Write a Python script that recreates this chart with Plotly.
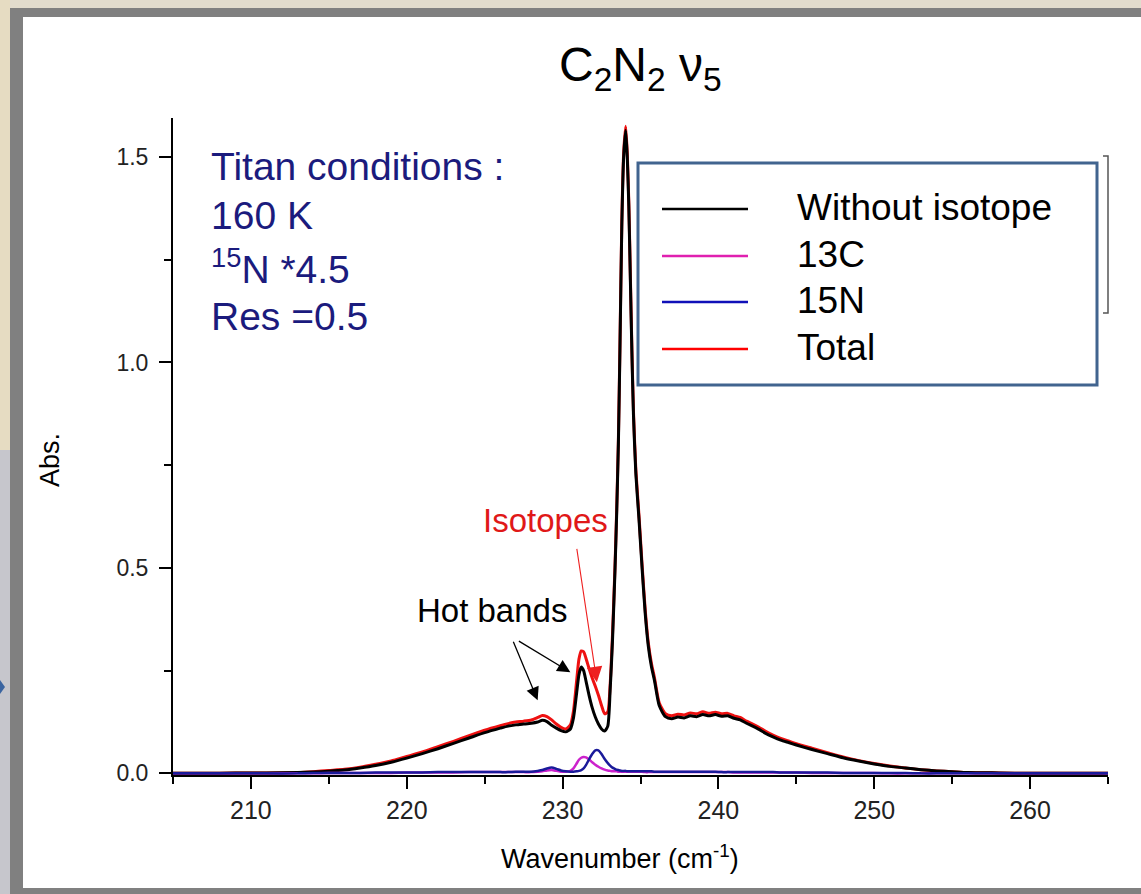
import plotly.graph_objects as go

# ---------------- data ----------------
wavenumber = [
    205, 207, 209, 211, 213, 214, 215, 216, 217, 218,
    219, 220, 221, 222, 223, 224, 225, 226, 226.5, 227,
    227.5, 228, 228.4, 228.7, 229.0, 229.3, 229.6, 229.9, 230.2, 230.5,
    230.7, 230.9, 231.05, 231.2, 231.35, 231.5, 231.7, 231.9, 232.1, 232.3,
    232.5, 232.7, 232.9, 233.05, 233.2, 233.36, 233.47, 233.58, 233.68, 233.8,
    233.92, 234.05, 234.15, 234.25, 234.35, 234.45, 234.55, 234.7, 234.9, 235.1,
    235.3, 235.5, 235.7, 235.9, 236.2, 236.6, 237.0, 237.4, 237.8, 238.2,
    238.6, 239.0, 239.4, 239.8, 240.2, 240.6, 241.0, 241.4, 241.8, 242.2,
    242.6, 243.0, 243.5, 244.0, 244.5, 245.0, 246, 247, 248, 249,
    250, 251, 252, 253, 254, 255, 256, 258, 260, 262,
    265,
]

without_isotope = [
    0.000, 0.000, 0.001, 0.001, 0.002, 0.003, 0.005, 0.008, 0.013, 0.019,
    0.027, 0.037, 0.048, 0.060, 0.073, 0.086, 0.099, 0.110, 0.115, 0.118,
    0.120, 0.122, 0.125, 0.129, 0.126, 0.117, 0.110, 0.104, 0.101, 0.108,
    0.135, 0.195, 0.240, 0.259, 0.250, 0.225, 0.190, 0.160, 0.137, 0.120,
    0.108, 0.103, 0.115, 0.200, 0.320, 0.490, 0.630, 0.800, 1.030, 1.330,
    1.500, 1.565, 1.500, 1.380, 1.200, 1.020, 0.870, 0.730, 0.620, 0.500,
    0.390, 0.310, 0.260, 0.225, 0.165, 0.138, 0.133, 0.137, 0.135, 0.140,
    0.138, 0.143, 0.140, 0.143, 0.139, 0.140, 0.134, 0.130, 0.122, 0.115,
    0.107, 0.098, 0.089, 0.081, 0.075, 0.069, 0.058, 0.048, 0.038, 0.030,
    0.023, 0.017, 0.013, 0.009, 0.006, 0.004, 0.002, 0.001, 0.000, 0.000,
    0.000,
]

c13 = [
    0.000, 0.000, 0.000, 0.000, 0.000, 0.000, 0.001, 0.001, 0.001, 0.001,
    0.001, 0.002, 0.002, 0.002, 0.002, 0.003, 0.003, 0.003, 0.003, 0.003,
    0.003, 0.003, 0.004, 0.005, 0.007, 0.008, 0.006, 0.004, 0.004, 0.006,
    0.012, 0.024, 0.033, 0.038, 0.040, 0.039, 0.034, 0.027, 0.021, 0.016,
    0.012, 0.009, 0.007, 0.006, 0.005, 0.005, 0.005, 0.004, 0.004, 0.004,
    0.004, 0.004, 0.004, 0.004, 0.004, 0.004, 0.004, 0.004, 0.004, 0.004,
    0.003, 0.003, 0.003, 0.003, 0.003, 0.003, 0.003, 0.003, 0.003, 0.003,
    0.003, 0.003, 0.003, 0.003, 0.003, 0.003, 0.002, 0.002, 0.002, 0.002,
    0.002, 0.002, 0.002, 0.002, 0.002, 0.002, 0.001, 0.001, 0.001, 0.001,
    0.001, 0.000, 0.000, 0.000, 0.000, 0.000, 0.000, 0.000, 0.000, 0.000,
    0.000,
]

n15 = [
    0.000, 0.000, 0.000, 0.000, 0.000, 0.001, 0.001, 0.001, 0.001, 0.002,
    0.002, 0.002, 0.002, 0.003, 0.003, 0.003, 0.003, 0.003, 0.003, 0.004,
    0.004, 0.004, 0.006, 0.008, 0.012, 0.014, 0.011, 0.007, 0.005, 0.004,
    0.004, 0.005, 0.006, 0.008, 0.012, 0.020, 0.034, 0.047, 0.056, 0.056,
    0.047, 0.035, 0.025, 0.019, 0.014, 0.011, 0.009, 0.008, 0.007, 0.006,
    0.006, 0.006, 0.005, 0.005, 0.005, 0.005, 0.005, 0.005, 0.005, 0.005,
    0.005, 0.005, 0.005, 0.004, 0.004, 0.004, 0.004, 0.004, 0.004, 0.004,
    0.004, 0.004, 0.004, 0.004, 0.003, 0.003, 0.003, 0.003, 0.003, 0.003,
    0.003, 0.003, 0.003, 0.002, 0.002, 0.002, 0.002, 0.002, 0.001, 0.001,
    0.001, 0.001, 0.001, 0.000, 0.000, 0.000, 0.000, 0.000, 0.000, 0.000,
    0.000,
]

total = [
    0.000, 0.000, 0.001, 0.001, 0.002, 0.004, 0.007, 0.010, 0.015, 0.022,
    0.030, 0.041, 0.052, 0.065, 0.078, 0.092, 0.105, 0.116, 0.121, 0.125,
    0.127, 0.130, 0.136, 0.141, 0.138, 0.130, 0.120, 0.112, 0.108, 0.118,
    0.152, 0.225, 0.278, 0.298, 0.296, 0.280, 0.255, 0.232, 0.212, 0.190,
    0.165, 0.145, 0.150, 0.215, 0.335, 0.500, 0.640, 0.810, 1.040, 1.340,
    1.510, 1.575, 1.510, 1.390, 1.210, 1.030, 0.880, 0.740, 0.629, 0.509,
    0.399, 0.318, 0.268, 0.232, 0.172, 0.145, 0.140, 0.144, 0.142, 0.147,
    0.145, 0.150, 0.146, 0.149, 0.145, 0.146, 0.140, 0.136, 0.127, 0.120,
    0.112, 0.103, 0.093, 0.085, 0.079, 0.072, 0.061, 0.050, 0.040, 0.031,
    0.024, 0.018, 0.013, 0.009, 0.006, 0.004, 0.002, 0.001, 0.000, 0.000,
    0.000,
]

series_names = ["Without isotope", "13C", "15N", "Total"]
x_tick_values = [210, 220, 230, 240, 250, 260]
y_tick_values = [0.0, 0.5, 1.0, 1.5]
y_tick_labels = ["0.0", "0.5", "1.0", "1.5"]

for arr in (without_isotope, c13, n15, total):
    assert len(arr) == len(wavenumber)

# ---------------- styling ----------------
W, H = 1141, 894
L, R, T, B = 173, 1108, 118, 775
NARROW = "Liberation Sans Narrow, Arial Narrow, Liberation Sans, Arial, sans-serif"
SANS = "Liberation Sans, Arial, sans-serif"

curve_colors = {"Without isotope": "#000000", "13C": "#cc22cc",
                "15N": "#1a1a9a", "Total": "#ee1111"}
legend_colors = {"Without isotope": "#000000", "13C": "#e020b0",
                 "15N": "#1010b8", "Total": "#ff0000"}


def px(x):
    return (x - L) / (R - L)


def py(y):
    return (B - y) / (B - T)


fig = go.Figure()
series_values = {"Without isotope": without_isotope, "13C": c13,
                 "15N": n15, "Total": total}
for name, width in (("Total", 3), ("Without isotope", 3), ("13C", 2.5), ("15N", 2.5)):
    fig.add_trace(go.Scatter(
        x=wavenumber, y=series_values[name], mode="lines", name=name,
        line=dict(color=curve_colors[name], width=width, shape="spline", smoothing=0.6),
        showlegend=False, hoverinfo="skip"))

shapes = [
    # slide background strips
    dict(type="rect", xref="paper", yref="paper", x0=px(0), x1=px(W), y0=py(0), y1=py(8),
         fillcolor="#e2dccd", line=dict(width=0), layer="below"),
    dict(type="rect", xref="paper", yref="paper", x0=px(0), x1=px(10), y0=py(0), y1=py(450),
         fillcolor="#e6dcc2", line=dict(width=0), layer="below"),
    dict(type="rect", xref="paper", yref="paper", x0=px(0), x1=px(10), y0=py(450), y1=py(H),
         fillcolor="#c6c6cc", line=dict(width=0), layer="below"),
    # white slide panel
    dict(type="rect", xref="paper", yref="paper", x0=px(23), x1=px(W + 5), y0=py(17), y1=py(888),
         fillcolor="#ffffff", line=dict(width=0), layer="below"),
    # small arrow fragment at the left edge
    dict(type="path", xref="paper", yref="paper",
         path=f"M {px(0)} {py(680)} L {px(5)} {py(687)} L {px(0)} {py(694)} Z",
         fillcolor="#3a64a0", line=dict(width=0), layer="above"),
    # bracket on the right
    dict(type="path", xref="paper", yref="paper",
         path=(f"M {px(1103)} {py(156)} L {px(1108)} {py(156)} L {px(1108)} {py(313)} "
               f"L {px(1103)} {py(313)}"),
         line=dict(color="#555555", width=1.5), layer="above"),
    # legend box
    dict(type="rect", xref="paper", yref="paper", x0=px(638), x1=px(1097), y0=py(163), y1=py(385),
         fillcolor="#ffffff", line=dict(color="#41648f", width=3), layer="above"),
]

legend_rows = [209, 256, 302, 349]
for name, row in zip(series_names, legend_rows):
    shapes.append(dict(type="line", xref="paper", yref="paper", x0=px(662), x1=px(748),
                       y0=py(row), y1=py(row),
                       line=dict(color=legend_colors[name], width=2.5), layer="above"))

annotations = []
for name, row in zip(series_names, legend_rows):
    annotations.append(dict(xref="paper", yref="paper", x=px(795), y=py(row - 2),
                            xanchor="left", yanchor="middle", text=name, showarrow=False,
                            font=dict(family=SANS, size=37, color="#000000")))

# title
annotations.append(dict(xref="paper", yref="paper", x=px(640), y=py(68), xanchor="center",
                        yanchor="middle", showarrow=False,
                        text="C<sub>2</sub>N<sub>2</sub> ν<sub>5</sub>",
                        font=dict(family=NARROW, size=48, color="#000000")))
# axis titles
annotations.append(dict(xref="paper", yref="paper", x=px(620), y=py(857), xanchor="center",
                        yanchor="middle", showarrow=False,
                        text="Wavenumber (cm<sup>-1</sup>)",
                        font=dict(family=NARROW, size=27, color="#000000")))
annotations.append(dict(xref="paper", yref="paper", x=px(50), y=py(460), xanchor="center",
                        yanchor="middle", showarrow=False, text="Abs.", textangle=-90,
                        font=dict(family=NARROW, size=27, color="#000000")))

# conditions text
cond_lines = ["Titan conditions :", "160 K", "<sup>15</sup>N *4.5", "Res =0.5"]
cond_rows = [166, 215, 266, 316]
for txt, row in zip(cond_lines, cond_rows):
    annotations.append(dict(xref="paper", yref="paper", x=px(209), y=py(row), xanchor="left",
                            yanchor="middle", showarrow=False, text=txt,
                            font=dict(family=SANS, size=39, color="#1b1b7d")))

# in-plot labels and arrows (data coordinates)
annotations += [
    dict(x=225.5, y=0.397, xref="x", yref="y", text="Hot bands", showarrow=False,
         font=dict(family=SANS, size=33, color="#000000")),
    dict(x=228.9, y=0.616, xref="x", yref="y", text="Isotopes", showarrow=False,
         font=dict(family=SANS, size=33, color="#e01818")),
    dict(x=228.4, y=0.178, ax=226.8, ay=0.324, xref="x", yref="y", axref="x", ayref="y",
         text="", showarrow=True, arrowhead=2, arrowsize=2, arrowwidth=1.3,
         arrowcolor="#000000", standoff=0, startstandoff=0),
    dict(x=230.5, y=0.246, ax=227.1, ay=0.324, xref="x", yref="y", axref="x", ayref="y",
         text="", showarrow=True, arrowhead=2, arrowsize=2, arrowwidth=1.3,
         arrowcolor="#000000", standoff=0, startstandoff=0),
    dict(x=232.2, y=0.222, ax=230.9, ay=0.550, xref="x", yref="y", axref="x", ayref="y",
         text="", showarrow=True, arrowhead=2, arrowsize=2.8, arrowwidth=1.1,
         arrowcolor="#ee2020", standoff=0, startstandoff=0),
]

fig.update_layout(
    width=W, height=H,
    margin=dict(l=L, r=W - R, t=T, b=H - B, pad=0),
    paper_bgcolor="#808080",
    plot_bgcolor="rgba(0,0,0,0)",
    showlegend=False,
    shapes=shapes,
    annotations=annotations,
    xaxis=dict(range=[205, 265], tickvals=x_tick_values, showgrid=False, zeroline=False,
               showline=True, linecolor="#000000", linewidth=2,
               ticks="outside", ticklen=12, tickwidth=2, tickcolor="#000000",
               minor=dict(dtick=5, tick0=205, ticks="outside", ticklen=7, tickwidth=2,
                          tickcolor="#000000", showgrid=False),
               tickfont=dict(family=NARROW, size=25, color="#222222")),
    yaxis=dict(range=[-0.004, 1.595], tickvals=y_tick_values, ticktext=y_tick_labels,
               showgrid=False, zeroline=False,
               showline=True, linecolor="#000000", linewidth=2,
               ticks="outside", ticklen=12, tickwidth=2, tickcolor="#000000",
               ticklabelstandoff=6,
               minor=dict(dtick=0.25, tick0=0, ticks="outside", ticklen=7, tickwidth=2,
                          tickcolor="#000000", showgrid=False),
               tickfont=dict(family=SANS, size=23, color="#222222")),
)

fig.write_html("out.html")
